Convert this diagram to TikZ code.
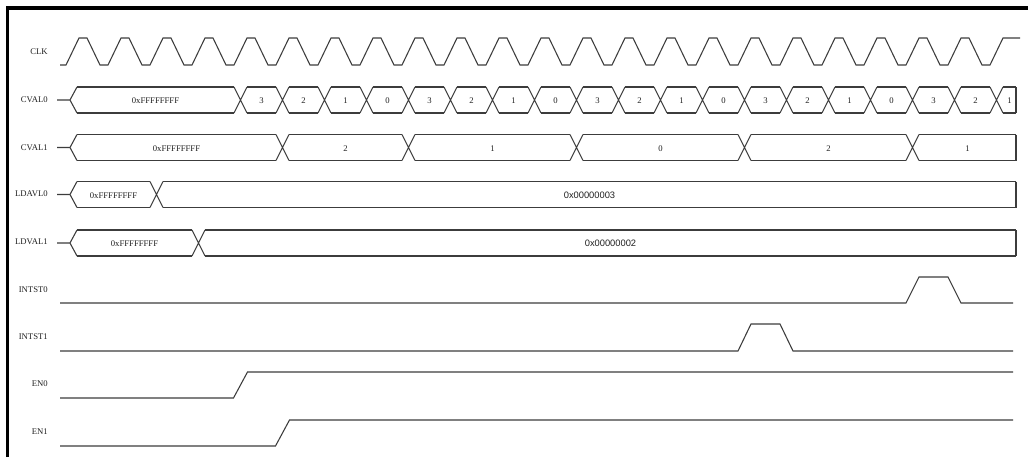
\documentclass[tikz,border=0pt]{standalone}
\usepackage{fontspec}
\setmainfont{Liberation Serif}
\newfontfamily\valsans{Liberation Sans}
\definecolor{wavecol}{HTML}{3C3C3C}
\definecolor{txtcol}{HTML}{202020}
\newcounter{valnode}
% bus start stub and tip: #1 = mid y
\newcommand\bstart[1]{\draw[wave] (57,#1) -- (70,#1) (77,#1-13) -- (70,#1) -- (77,#1+13);}
% bus crossing: #1 = x centre, #2 = mid y
\newcommand\bx[2]{\draw[wave] (#1-6.5,#2-13) -- (#1+6.5,#2+13) (#1-6.5,#2+13) -- (#1+6.5,#2-13);}
% bus closing edge: #1 = x, #2 = mid y
\newcommand\bend[2]{\draw[wave] (#1,#2-13) -- (#1,#2+13);}
% bus segment: #1 mid y, #2 x from, #3 x to, #4 text, #5 text style
\newcommand\bseg[5]{%
  \draw[wave] (#2,#1-13) -- (#3,#1-13) (#2,#1+13) -- (#3,#1+13);
  \stepcounter{valnode}%
  \node[#5] (v\thevalnode) at ({(#2+#3)/2},#1+0.7) {#4};}
\begin{document}
\begin{tikzpicture}[x=0.75pt,y=-0.75pt,
  wave/.style={draw=wavecol,line width=0.8pt},
  frameline/.style={draw=black,line width=2.6pt},
  siglabel/.style={anchor=east,inner sep=0pt,text=txtcol,font=\fontsize{6.5}{7}\selectfont},
  val/.style={inner sep=0pt,text=txtcol,font=\fontsize{6.5}{7}\selectfont},
  valsf/.style={inner sep=0pt,text=txtcol,font=\valsans\fontsize{7}{8}\selectfont}]
\useasboundingbox (0,0) rectangle (1028,457);
\fill[white] (0,0) rectangle (1028,457);
\draw[frameline] (7.5,457) -- (7.5,8) -- (1028,8);

% signal labels
\node[siglabel] (lclk)    at (48,52)  {CLK};
\node[siglabel] (lcval0)  at (48,100) {CVAL0};
\node[siglabel] (lcval1)  at (48,148) {CVAL1};
\node[siglabel] (lldavl0) at (48,194) {LDAVL0};
\node[siglabel] (lldval1) at (48,242) {LDVAL1};
\node[siglabel] (lintst0) at (48,290) {INTST0};
\node[siglabel] (lintst1) at (48,337) {INTST1};
\node[siglabel] (len0)    at (48,384) {EN0};
\node[siglabel] (len1)    at (48,432) {EN1};

% CLK
\draw[wave] (60,65) foreach \k in {0,...,21} {
   -- ({66+42*\k},65) -- ({79+42*\k},38) -- ({87+42*\k},38) -- ({100+42*\k},65) }
   -- ({66+42*22},65) -- ({79+42*22},38) -- (1020,38);

% CVAL0
\bstart{100}
\bseg{100}{77}{234}{0xFFFFFFFF}{val}
\foreach \k/\v in {4/3,5/2,6/1,7/0,8/3,9/2,10/1,11/0,12/3,13/2,14/1,15/0,16/3,17/2,18/1,19/0,20/3,21/2}{
  \pgfmathsetmacro\xc{72.5+42*\k}
  \bx{\xc}{100}
  \bseg{100}{\xc+6.5}{\xc+35.5}{\v}{val}
}
\bx{996.5}{100}
\bseg{100}{1003}{1016}{1}{val}
\bend{1016}{100}

% CVAL1
\bstart{147.5}
\bseg{147.5}{77}{276}{0xFFFFFFFF}{val}
\foreach \xa/\xb/\v in {282.5/408.5/2,408.5/576.5/1,576.5/744.5/0,744.5/912.5/2}{
  \bx{\xa}{147.5}
  \bseg{147.5}{\xa+6.5}{\xb-6.5}{\v}{val}
}
\bx{912.5}{147.5}
\bseg{147.5}{919}{1016}{1}{val}
\bend{1016}{147.5}

% LDAVL0
\bstart{194.5}
\bseg{194.5}{77}{150}{0xFFFFFFFF}{val}
\bx{156.5}{194.5}
\bseg{194.5}{163}{1016}{0x00000003}{valsf}
\bend{1016}{194.5}

% LDVAL1
\bstart{243}
\bseg{243}{77}{192}{0xFFFFFFFF}{val}
\bx{198.5}{243}
\bseg{243}{205}{1016}{0x00000002}{valsf}
\bend{1016}{243}

% INTST0
\draw[wave] (60,303) -- (906,303) -- (919,277) -- (948,277) -- (961,303) -- (1013,303);
% INTST1
\draw[wave] (60,351) -- (738,351) -- (751,324) -- (780,324) -- (793,351) -- (1013,351);
% EN0
\draw[wave] (60,398) -- (233.5,398) -- (247.5,372) -- (1013,372);
% EN1
\draw[wave] (60,446) -- (275.5,446) -- (289.5,420) -- (1013,420);
\end{tikzpicture}
\end{document}
